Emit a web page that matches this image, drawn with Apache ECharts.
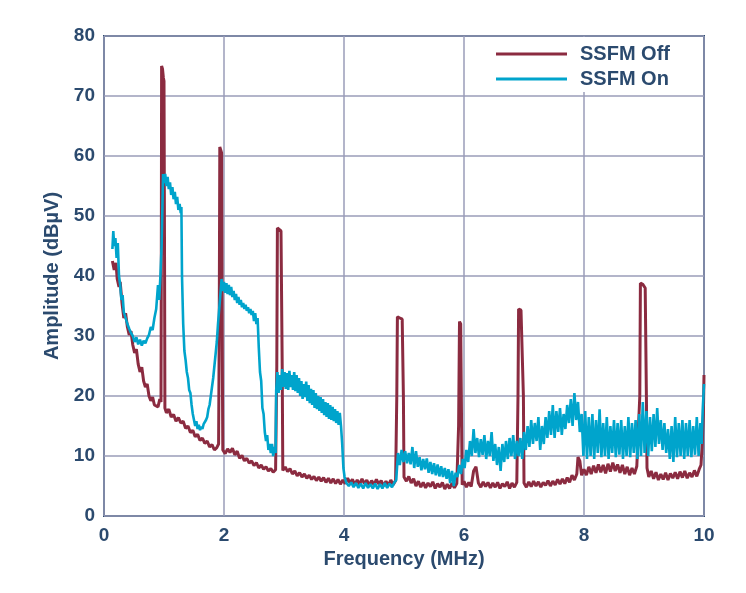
<!DOCTYPE html>
<html>
<head>
<meta charset="utf-8">
<script src="https://cdn.jsdelivr.net/npm/echarts@6/dist/echarts.min.js"></script>
<style>
html,body{margin:0;padding:0;background:#ffffff;}
#chart{width:746px;height:593px;}
</style>
</head>
<body>
<div id="chart"></div>
<script>
// Axis ticks
const xTicks = [0, 2, 4, 6, 8, 10];
const yTicks = [0, 10, 20, 30, 40, 50, 60, 70, 80];
const seriesNames = ['SSFM Off', 'SSFM On'];

// SSFM Off trace, [MHz, dBuV]
const offA = [[0.14,42.5],[0.17,41.0],[0.20,42.2],[0.22,39.5],[0.25,38.2],[0.27,39.0],[0.30,35.5],[0.33,33.0],[0.36,33.8],[0.39,31.5],[0.42,30.2],[0.45,30.8],[0.48,28.5],[0.51,27.2],[0.54,27.8],[0.57,25.3],[0.60,24.0],[0.63,24.8],[0.66,22.5],[0.69,21.5],[0.72,22.0],[0.75,20.0],[0.78,19.2],[0.81,19.8],[0.84,18.5],[0.87,18.8],[0.90,18.2],[0.93,19.5],[0.95,19.0],
[0.955,40],[0.96,75],[0.975,74.5],[0.99,73],[1.0,72.5],[1.01,40],[1.015,18.0],
[1.04,17.2],[1.08,17.8],[1.12,16.5],[1.16,16.9],[1.20,15.8],[1.24,16.4],[1.28,15.5],[1.32,15.8],[1.36,14.6],[1.40,15.0],[1.44,13.9],[1.48,14.3],[1.52,13.2],[1.56,13.6],[1.60,12.6],[1.64,13.0],[1.68,12.1],[1.72,12.5],[1.76,11.5],[1.80,11.9],[1.84,11.0],[1.88,11.4],[1.91,12.0],
[1.92,30],[1.93,61.5],[1.95,61.2],[1.96,60.5],[1.97,30],[1.98,11.0]];
const offB = [[2.02,10.4],[2.06,11.2],[2.10,10.6],[2.14,11.3],[2.18,10.2],[2.22,10.8],[2.26,9.6],[2.30,10.1],[2.34,9.2],[2.38,9.6],[2.42,8.8],[2.46,9.2],[2.50,8.4],[2.54,8.9],[2.58,8.0],[2.62,8.5],[2.66,7.8],[2.70,8.2],[2.74,7.5],[2.78,7.9],[2.82,7.3],[2.86,7.7],
[2.88,25],[2.89,48],[2.92,47.8],[2.95,47.5],[2.97,25],[2.98,7.6],
[3.02,8.2],[3.06,7.4],[3.10,7.9],[3.14,7.0],[3.18,7.5],[3.22,6.7],[3.26,7.2],[3.30,6.5],[3.34,7.0],[3.38,6.3],[3.42,6.8],[3.46,6.1],[3.50,6.6],[3.54,5.9],[3.58,6.5],[3.62,5.8],[3.66,6.4],[3.70,5.6],[3.74,6.3],[3.78,5.5],[3.82,6.2],[3.86,5.4],[3.90,6.1],[3.94,5.3],[3.98,6.0],
[4.02,5.4],[4.06,6.3],[4.10,5.5],[4.14,6.1],[4.18,5.2],[4.22,6.0],[4.26,5.3],[4.30,6.2],[4.34,5.4],[4.38,6.0],[4.42,5.1],[4.46,5.9],[4.50,5.2],[4.54,6.1],[4.58,5.3],[4.62,5.9],[4.66,5.0],[4.70,5.8],[4.74,5.1],[4.78,6.0],[4.82,5.2],[4.86,5.9],
[4.88,20],[4.89,33.2],[4.93,33.0],[4.97,32.8],[4.99,20],[5.0,6.5]];
const offC = [[5.04,5.8],[5.08,6.6],[5.12,5.5],[5.16,6.2],[5.20,5.0],[5.24,5.8],[5.28,4.8],[5.32,5.6],[5.36,4.7],[5.40,5.5],[5.44,4.9],[5.48,5.7],[5.52,4.6],[5.56,5.4],[5.60,4.8],[5.64,5.6],[5.68,4.5],[5.72,5.3],[5.76,4.6],[5.80,5.5],[5.84,4.7],[5.88,5.4],
[5.91,15],[5.925,32.4],[5.945,32.0],[5.96,15],[5.97,5.2],
[6.00,5.8],[6.04,4.8],[6.08,5.6],[6.12,4.9],[6.16,7.5],[6.20,8.2],[6.24,5.5],[6.28,4.8],[6.32,5.7],[6.36,4.9],[6.40,5.6],[6.44,4.7],[6.48,5.5],[6.52,4.8],[6.56,5.6],[6.60,4.6],[6.64,5.4],[6.68,4.9],[6.72,5.7],[6.76,4.6],[6.80,5.5],[6.84,4.8],[6.88,5.6],
[6.90,20],[6.91,34.5],[6.95,34.3],[6.98,34.0],[6.99,20],[7.0,5.5],
[7.04,4.8],[7.08,5.7],[7.12,4.9],[7.16,5.8],[7.20,5.0],[7.24,5.7],[7.28,4.8],[7.32,5.6],[7.36,5.1],[7.40,5.9],[7.44,5.0],[7.48,5.8],[7.52,5.2],[7.56,6.1],[7.60,5.3],[7.64,6.2],[7.68,5.4],[7.72,6.4],[7.76,5.6],[7.80,6.8],[7.84,6.0],[7.88,7.0],[7.90,9.8],[7.93,9.2],[7.96,6.8]];
const offD = [[8.00,7.8],[8.04,6.8],[8.08,8.2],[8.12,7.0],[8.16,8.4],[8.20,7.2],[8.24,8.6],[8.28,7.3],[8.32,8.5],[8.36,7.1],[8.40,8.7],[8.44,7.4],[8.48,8.9],[8.52,7.5],[8.56,8.6],[8.60,7.2],[8.64,8.5],[8.68,7.0],[8.72,8.2],[8.76,6.8],[8.80,8.0],[8.84,7.0],[8.88,8.3],
[8.93,20],[8.94,38.8],[8.98,38.6],[9.02,38.0],[9.04,20],[9.05,8.0],
[9.08,6.5],[9.12,7.5],[9.16,6.2],[9.20,7.3],[9.24,6.0],[9.28,7.0],[9.32,6.1],[9.36,7.2],[9.40,6.0],[9.44,7.1],[9.48,6.3],[9.52,7.3],[9.56,6.2],[9.60,7.4],[9.64,6.4],[9.68,7.5],[9.72,6.3],[9.76,7.2],[9.80,6.5],[9.84,7.6],[9.88,6.6],[9.92,7.8],[9.95,8.5],[9.97,12],[9.99,17],[10.0,23.5]];

// SSFM On trace, [MHz, dBuV]
const onA = [[0.14,44.5],[0.155,47.5],[0.17,45.0],[0.19,46.3],[0.21,43.0],[0.23,45.5],[0.25,40.0],[0.27,38.5],[0.29,36.0],[0.31,36.8],[0.33,34.0],[0.36,33.0],[0.39,32.0],[0.42,31.2],[0.45,30.5],[0.48,30.0],[0.51,29.0],[0.54,29.8],[0.57,28.6],[0.60,29.4],[0.63,28.4],[0.66,29.2],[0.69,28.8],[0.72,29.6],[0.75,30.2],[0.78,31.5],[0.81,31.0],[0.84,33.0],[0.87,34.5],[0.90,38.5],[0.92,36.0],[0.94,40.0],[0.96,45.0],[0.985,57.0],
[1.00,55.5],[1.02,57.0],[1.04,55.0],[1.06,56.5],[1.08,54.5],[1.10,55.6],[1.12,53.5],[1.14,54.8],[1.16,52.8],[1.18,54.0],[1.20,52.0],[1.22,53.2],[1.24,51.0],[1.26,52.0],[1.28,50.5],[1.29,51.5],[1.30,40.0],[1.32,32.0],[1.34,27.5],[1.36,26.0],[1.38,24.0],[1.40,23.0],[1.42,21.0],[1.44,20.5],[1.46,18.5],[1.48,17.0],[1.50,16.0],[1.52,15.0],[1.54,15.8],[1.56,14.5],[1.58,15.2],[1.60,14.3],[1.62,14.9],[1.64,14.5],[1.66,15.3],[1.68,15.0],[1.70,16.0],[1.72,16.5],[1.74,17.8],[1.76,18.5],[1.78,20.0],[1.80,21.5],[1.82,23.0],[1.84,25.0],[1.86,27.0],[1.88,29.0],[1.90,32.0],[1.92,34.5],[1.94,37.0],[1.96,39.5],[1.98,37.5]];
const onB = [[2.00,39.0],[2.02,37.2],[2.04,38.8],[2.06,37.0],[2.08,38.5],[2.10,36.8],[2.12,38.2],[2.14,36.5],[2.16,37.5],[2.18,36.0],[2.20,37.0],[2.22,35.5],[2.24,36.5],[2.26,35.2],[2.28,36.0],[2.30,34.8],[2.32,35.5],[2.34,34.5],[2.36,35.2],[2.38,34.2],[2.40,34.8],[2.42,33.8],[2.44,34.5],[2.46,33.5],[2.48,34.2],[2.50,32.5],[2.52,33.8],[2.54,32.0],[2.56,33.0],[2.58,28.0],[2.60,24.0],[2.62,22.5],[2.64,18.0],[2.66,17.0],[2.68,14.0],[2.70,12.5],[2.72,13.5],[2.74,11.0],[2.76,12.0],[2.78,10.5],[2.80,12.0],[2.82,10.0],[2.84,11.5],[2.86,10.5],
[2.87,21.0],[2.89,24.0],[2.91,20.5],[2.93,23.5],[2.95,21.0],[2.97,24.5],[2.99,21.5],[3.01,24.0],[3.03,21.2],[3.05,23.8],[3.07,21.0],[3.09,24.2],[3.11,21.5],[3.13,23.5],[3.15,21.0],[3.17,24.0],[3.19,20.8],[3.21,23.5],[3.23,20.5],[3.25,23.0],[3.27,20.0],[3.29,22.5],[3.31,19.5],[3.33,22.0],[3.35,19.8],[3.37,22.4],[3.39,19.2],[3.41,21.8],[3.43,18.8],[3.45,21.2],[3.47,18.5],[3.49,21.0],[3.51,18.0],[3.53,20.5],[3.55,17.8],[3.57,20.0],[3.59,17.5],[3.61,19.8],[3.63,17.2],[3.65,19.5],[3.67,16.8],[3.69,19.0],[3.71,16.5],[3.73,18.8],[3.75,16.2],[3.77,18.5],[3.79,16.0],[3.81,18.2],[3.83,15.8],[3.85,17.8],[3.87,15.5],[3.89,17.5],[3.91,15.2],[3.93,17.2],[3.95,15.0],[3.97,12.0],[3.99,8.0],
[4.01,6.5],[4.04,5.5],[4.08,5.0],[4.12,5.6],[4.16,4.8],[4.20,5.5],[4.24,4.7],[4.28,5.4],[4.32,4.6],[4.36,5.5],[4.40,4.7],[4.44,5.3],[4.48,4.6],[4.52,5.4],[4.56,4.5],[4.60,5.3],[4.64,4.6],[4.68,5.5],[4.72,4.7],[4.76,5.4],[4.80,4.8],[4.84,5.6],[4.87,6.0],[4.90,10.5],[4.93,8.5],[4.96,11.0],[4.99,9.0]];
const onC = [[5.02,10.8],[5.05,8.8],[5.08,10.5],[5.11,8.6],[5.14,11.5],[5.17,8.0],[5.20,10.8],[5.23,8.2],[5.26,9.8],[5.29,7.6],[5.32,9.5],[5.35,7.8],[5.38,9.6],[5.41,7.2],[5.44,9.0],[5.47,7.0],[5.50,8.8],[5.53,6.8],[5.56,8.6],[5.59,6.6],[5.62,8.3],[5.65,6.5],[5.68,8.0],[5.71,6.2],[5.74,7.8],[5.77,5.5],[5.80,7.5],[5.83,5.0],[5.86,7.2],[5.89,6.5],[5.92,8.5],[5.95,7.0],[5.98,9.5],
[6.01,8.0],[6.04,11.0],[6.07,9.0],[6.10,12.5],[6.13,10.0],[6.16,14.5],[6.19,10.5],[6.22,13.0],[6.25,9.8],[6.28,12.8],[6.31,10.2],[6.34,13.5],[6.37,9.5],[6.40,12.5],[6.43,10.0],[6.46,14.0],[6.49,9.2],[6.52,12.0],[6.55,8.5],[6.58,11.5],[6.61,7.5],[6.64,12.0],[6.67,9.0],[6.70,12.5],[6.73,9.5],[6.76,13.0],[6.79,10.0],[6.82,13.5],[6.85,9.5],[6.88,12.5],[6.91,10.0],[6.94,13.0],[6.97,9.5],
[7.00,14.0],[7.03,11.0],[7.06,15.0],[7.09,11.5],[7.12,16.0],[7.15,12.0],[7.18,15.5],[7.21,12.5],[7.24,16.5],[7.27,11.0],[7.30,15.0],[7.33,12.0],[7.36,16.5],[7.39,13.0],[7.42,17.5],[7.45,13.5],[7.48,18.5],[7.51,13.0],[7.54,17.5],[7.57,14.0],[7.60,18.0],[7.63,13.5],[7.66,17.0],[7.69,14.5],[7.72,18.5],[7.75,15.5],[7.78,19.5],[7.81,15.0],[7.84,20.5],[7.87,16.0],[7.90,19.0],[7.93,14.0],[7.96,17.0],[7.99,10.0]];
const onD = [[8.02,17.5],[8.05,9.5],[8.08,16.5],[8.11,10.0],[8.14,17.0],[8.17,9.5],[8.20,16.0],[8.23,10.5],[8.26,17.8],[8.29,9.8],[8.32,15.5],[8.35,10.0],[8.38,16.5],[8.41,9.5],[8.44,15.0],[8.47,10.5],[8.50,16.0],[8.53,9.8],[8.56,15.5],[8.59,10.2],[8.62,16.0],[8.65,9.5],[8.68,15.0],[8.71,10.0],[8.74,16.5],[8.77,9.8],[8.80,15.5],[8.83,10.5],[8.86,16.0],[8.89,9.5],[8.92,17.0],[8.95,10.0],[8.98,19.0],
[9.01,10.5],[9.04,17.5],[9.07,10.0],[9.10,16.5],[9.13,10.8],[9.16,17.0],[9.19,11.5],[9.22,18.0],[9.25,12.0],[9.28,16.0],[9.31,11.0],[9.34,15.5],[9.37,10.5],[9.40,14.5],[9.43,9.5],[9.46,15.0],[9.49,9.0],[9.52,16.5],[9.55,9.8],[9.58,15.5],[9.61,10.0],[9.64,16.0],[9.67,9.5],[9.70,15.5],[9.73,10.0],[9.76,16.0],[9.79,9.8],[9.82,15.0],[9.85,10.2],[9.88,16.5],[9.91,10.0],[9.94,15.5],[9.96,12.0],[9.98,18.0],[10.0,22.0]];

const offData = offA.concat(offB, offC, offD);
const onData = onA.concat(onB, onC, onD);

const TEXT = '#2b4a6e';
const FONT = '"Liberation Sans", Arial, sans-serif';
const chart = echarts.init(document.getElementById('chart'), null, {renderer: 'canvas'});
chart.setOption({
  backgroundColor: '#ffffff',
  animation: false,
  textStyle: {fontFamily: FONT},
  grid: {left: 104, right: 42, top: 36, bottom: 77, show: true, borderColor: '#2d4d70', borderWidth: 2, backgroundColor: 'transparent'},
  legend: {
    orient: 'vertical', left: 484, top: 37,
    padding: [7, 32, 3, 12],
    backgroundColor: '#ffffff',
    itemWidth: 71, itemHeight: 3, itemGap: 5,
    icon: 'rect',
    textStyle: {fontFamily: FONT, fontSize: 20, fontWeight: 'bold', color: TEXT, lineHeight: 20, padding: [0, 0, 0, 8]},
    data: seriesNames
  },
  xAxis: {
    type: 'value', min: xTicks[0], max: xTicks[xTicks.length - 1], interval: 2,
    name: 'Frequency (MHz)', nameLocation: 'middle', nameGap: 32,
    nameTextStyle: {fontFamily: FONT, fontSize: 20, fontWeight: 'bold', color: TEXT},
    axisLine: {show: false}, axisTick: {show: false},
    axisLabel: {fontFamily: FONT, fontSize: 19, fontWeight: 'bold', color: TEXT, margin: 10},
    splitLine: {show: true, lineStyle: {color: '#9a9db8', width: 1.5}}
  },
  yAxis: {
    type: 'value', min: yTicks[0], max: yTicks[yTicks.length - 1], interval: 10,
    name: 'Amplitude (dBµV)', nameLocation: 'middle', nameGap: 42,
    nameTextStyle: {fontFamily: FONT, fontSize: 20, fontWeight: 'bold', color: TEXT},
    axisLine: {show: false}, axisTick: {show: false},
    axisLabel: {fontFamily: FONT, fontSize: 19, fontWeight: 'bold', color: TEXT, margin: 9},
    splitLine: {show: true, lineStyle: {color: '#9a9db8', width: 1.5}}
  },
  series: [
    {name: seriesNames[0], type: 'line', data: offData, showSymbol: false, symbol: 'none', lineStyle: {color: '#8b2b40', width: 3}, itemStyle: {color: '#8b2b40'}, z: 2},
    {name: seriesNames[1], type: 'line', data: onData, showSymbol: false, symbol: 'none', lineStyle: {color: '#00a4cc', width: 2.6}, itemStyle: {color: '#00a4cc'}, z: 3}
  ]
});
</script>
</body>
</html>
